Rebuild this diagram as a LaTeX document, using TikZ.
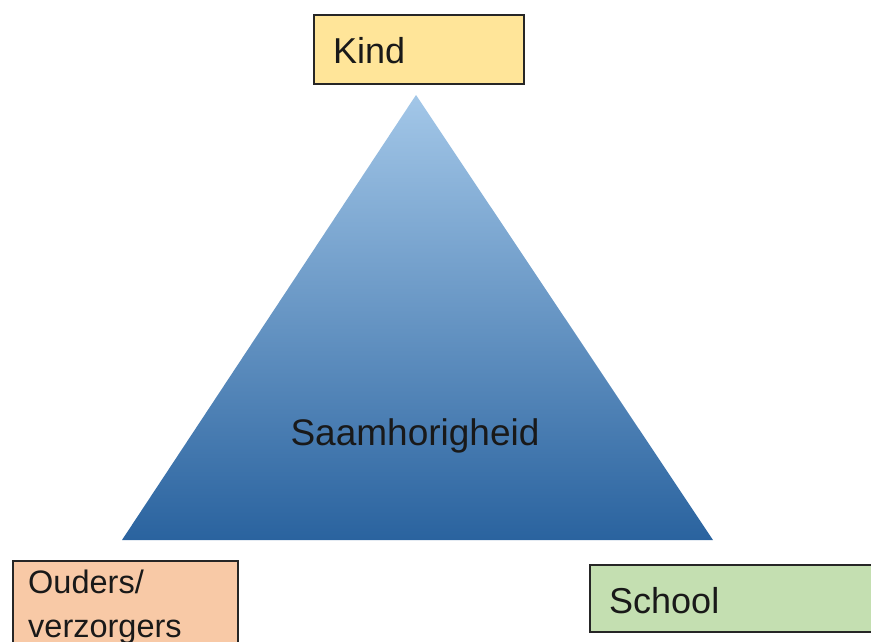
\documentclass[tikz,border=0pt]{standalone}
\usepackage{fontspec}
\setmainfont{Liberation Sans}
\begin{document}
\begin{tikzpicture}[x=1pt,y=-1pt,
  box/.style={draw=black!85,line width=2pt,anchor=north west,inner sep=0pt},
  boxtext/.style={anchor=base west,inner sep=0pt,text=black!90},
  big/.style={font=\fontsize{36}{42}\selectfont},
  mid/.style={font=\fontsize{32.5}{44}\selectfont}]
\useasboundingbox (0,0) rectangle (871,641);
\clip (0,0) rectangle (871,641);
\definecolor{kindc}{HTML}{FFE599}
\definecolor{ouderc}{HTML}{F8C9A6}
\definecolor{schoolc}{HTML}{C4DFB1}
\definecolor{tritop}{HTML}{A3C7E8}
\definecolor{trimid}{HTML}{5F9DD8}
\definecolor{tribot}{HTML}{2A639F}
% triangle
\coordinate (apex) at (416,95);
\coordinate (bl) at (122,540);
\coordinate (br) at (713,540);
\shade[top color=tritop,middle color=trimid,bottom color=tribot] (apex) -- (br) -- (bl) -- cycle;
\node[font=\fontsize{37}{42}\selectfont,inner sep=0pt,anchor=base,text=black!90] (saam) at (415,445) {Saamhorigheid};
% Kind
\node[box,fill=kindc,minimum width=210pt,minimum height=69pt] (kind) at (313,14) {};
\node[boxtext,big] (kindt) at (333,63) {Kind};
% Ouders
\node[box,fill=ouderc,minimum width=225pt,minimum height=110pt] (ouders) at (12,560) {};
\node[boxtext,mid] (oudert1) at (28,593) {Ouders/};
\node[boxtext,mid] (oudert2) at (28,637) {verzorgers};
% School
\node[box,fill=schoolc,minimum width=320pt,minimum height=67pt] (school) at (589,564) {};
\node[boxtext,big] (schoolt) at (609,613) {School};
\end{tikzpicture}
\end{document}
